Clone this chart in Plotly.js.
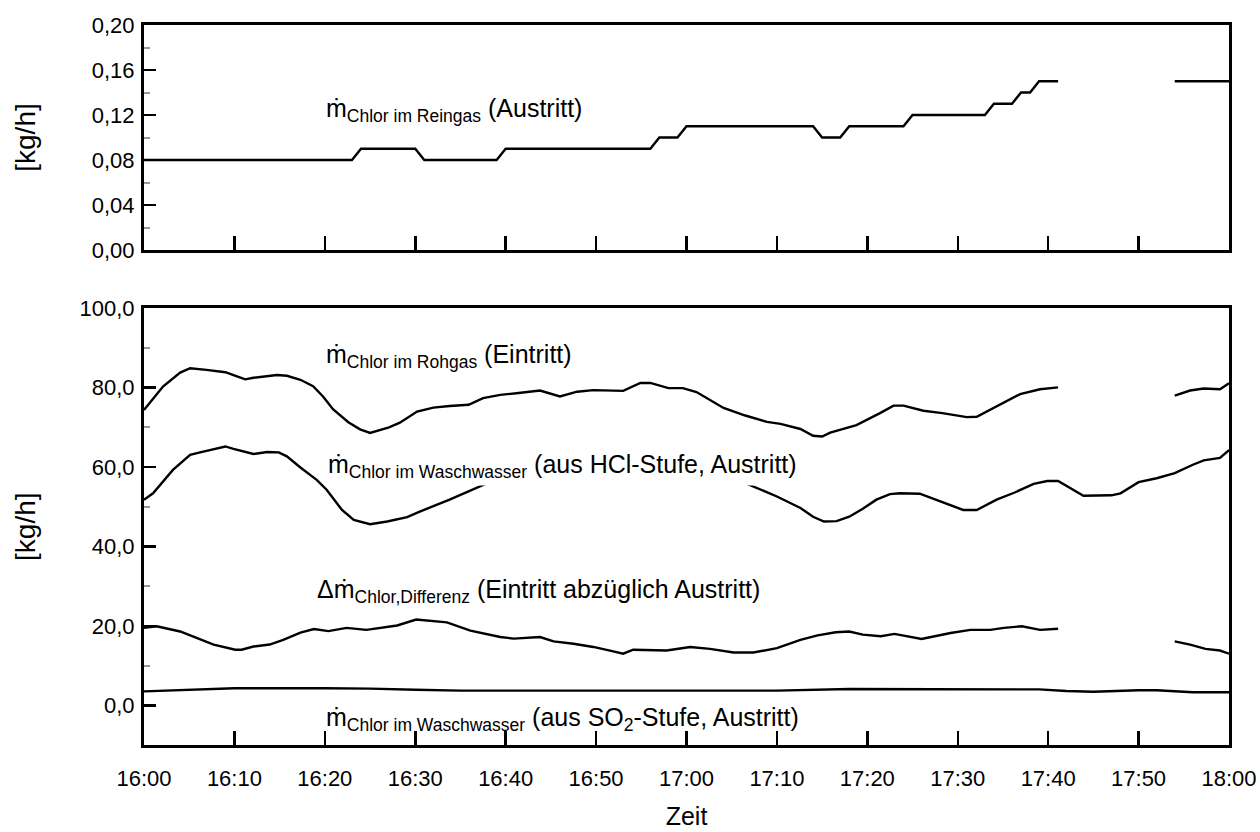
<!DOCTYPE html>
<html>
<head>
<meta charset="utf-8">
<script src="https://cdn.plot.ly/plotly-3.0.1.min.js"></script>
<style>html,body{margin:0;padding:0;background:#fff;}#chart{width:1260px;height:832px;}</style>
</head>
<body>
<div id="chart"></div>
<script>
// time in minutes after 16:00
var timeTickVals = [0,10,20,30,40,50,60,70,80,90,100,110,120];
var timeTickLabels = ['16:00','16:10','16:20','16:30','16:40','16:50','17:00','17:10','17:20','17:30','17:40','17:50','18:00'];

var topTickVals = [0,0.04,0.08,0.12,0.16,0.20];
var topTickLabels = ['0,00','0,04','0,08','0,12','0,16','0,20'];
var botTickVals = [0,20,40,60,80,100];
var botTickLabels = ['0,0','20,0','40,0','60,0','80,0','100,0'];

// Chlor im Reingas (Austritt) [kg/h]
var reingasT = [0,23,24,30,31,39,40,56,57,59,60,74,75,77,78,84,85,93,94,96,97,98,99,101.1,107,114,120];
var reingasV = [0.08,0.08,0.09,0.09,0.08,0.08,0.09,0.09,0.10,0.10,0.11,0.11,0.10,0.10,0.11,0.11,0.12,0.12,0.13,0.13,0.14,0.14,0.15,0.15,null,0.15,0.15];

// Chlor im Rohgas (Eintritt)
var rohgasT = [0,2.1,4.0,5.1,6.9,9.0,9.9,11.2,12.1,13.6,14.7,15.8,17.3,18.7,19.8,20.9,22.6,23.9,25.0,27.1,28.3,30.2,32.0,33.8,35.9,37.5,39.4,41.2,43.8,46.0,47.9,49.7,53.0,54.9,56.0,58.0,59.6,61.1,64.1,66.5,68.9,70.4,72.6,74.0,75.0,75.9,78.8,81.4,82.9,84.0,85.5,86.2,88.3,91.0,92.1,94.7,96.9,99.1,101.1,107,114.0,115.7,117.2,119.0,120];
var rohgasV = [74.4,80.3,83.8,84.9,84.5,83.9,83.2,82.1,82.5,83.0,83.2,83.0,82.0,80.4,77.8,74.6,71.3,69.5,68.6,70.0,71.2,74.0,75.0,75.4,75.7,77.4,78.2,78.6,79.3,77.8,79.0,79.4,79.2,81.2,81.2,79.9,79.9,78.9,74.9,73.0,71.4,70.9,69.6,67.9,67.7,68.7,70.6,73.6,75.5,75.5,74.6,74.2,73.6,72.6,72.7,75.7,78.4,79.6,80.1,null,78.0,79.3,79.8,79.6,81.1];

// Chlor im Waschwasser (aus HCl-Stufe, Austritt)
var hclT = [0,1.0,3.2,5.1,6.2,7.7,9.0,9.9,12.1,13.6,14.9,15.8,17.3,19.1,20.2,21.9,23.2,25.0,26.9,29.1,30.5,33.8,37.4,40,45,50,55,60,64,66.7,70.0,72.6,74.0,75.2,76.6,78.0,79.5,81.0,82.5,83.6,85.8,88.1,90.6,92.1,94.3,96.3,98.4,99.9,101.1,103.9,107.0,108.0,110.0,112.0,114.0,116.0,117.2,119.0,120];
var hclV = [51.8,53.4,59.3,63.1,63.7,64.6,65.2,64.6,63.3,63.8,63.7,62.7,59.9,56.8,54.3,49.2,46.7,45.6,46.3,47.4,48.8,51.8,55.5,58.0,59.5,59.5,59.0,58.5,57.5,55.8,52.6,49.7,47.5,46.3,46.4,47.5,49.5,51.8,53.2,53.4,53.3,51.3,49.2,49.2,51.8,53.6,55.8,56.5,56.5,52.8,52.9,53.4,56.2,57.2,58.5,60.6,61.7,62.3,64.3];

// Chlor Differenz (Eintritt abzüglich Austritt)
var diffT = [0,1.4,4.0,5.3,7.7,10.1,10.8,12.1,13.9,15.4,17.3,18.8,20.4,22.4,24.6,28.0,30.1,33.5,36.1,39.4,40.9,43.8,45.3,47.5,49.7,51.9,53.0,54.1,57.8,60.4,62.6,65.2,67.4,70.0,72.6,74.5,76.5,78.0,79.5,81.5,83.0,86.0,89.2,91.4,93.6,95.1,97.1,99.1,101.1,107,114.0,115.7,117.4,119.0,120];
var diffV = [19.5,19.9,18.6,17.4,15.3,14.0,14.0,14.8,15.3,16.5,18.3,19.2,18.7,19.5,19.0,20.1,21.6,20.9,18.8,17.2,16.8,17.2,16.1,15.5,14.7,13.6,13.0,14.0,13.8,14.7,14.2,13.3,13.3,14.4,16.5,17.6,18.4,18.6,17.8,17.4,18.0,16.7,18.2,19.0,19.0,19.5,19.9,19.0,19.3,null,16.1,15.3,14.2,13.8,13.0];

// Chlor im Waschwasser (aus SO2-Stufe, Austritt)
var so2T = [0,5,10,20,25,30,35,40,50,60,70,78,90,99,102,105,110,112,116,120];
var so2V = [3.5,3.9,4.3,4.3,4.2,3.9,3.7,3.7,3.7,3.6,3.7,4.1,4.1,4.0,3.6,3.4,3.8,3.8,3.3,3.3];

var lineStyle = {color:'#000', width:2.4};
var traces = [
  {x:reingasT, y:reingasV, xaxis:'x', yaxis:'y', type:'scatter', mode:'lines', line:lineStyle, connectgaps:false},
  {x:rohgasT, y:rohgasV, xaxis:'x2', yaxis:'y2', type:'scatter', mode:'lines', line:lineStyle, connectgaps:false},
  {x:hclT, y:hclV, xaxis:'x2', yaxis:'y2', type:'scatter', mode:'lines', line:lineStyle, connectgaps:false},
  {x:diffT, y:diffV, xaxis:'x2', yaxis:'y2', type:'scatter', mode:'lines', line:lineStyle, connectgaps:false},
  {x:so2T, y:so2V, xaxis:'x2', yaxis:'y2', type:'scatter', mode:'lines', line:lineStyle, connectgaps:false}
];

var FONT = 'Liberation Sans, Arial, sans-serif';
var xCommon = {
  range:[0,120], tickmode:'array', tickvals:timeTickVals, ticktext:timeTickLabels,
  ticks:'inside', ticklen:14, tickwidth:2.5, tickcolor:'#000',
  showline:true, linewidth:3, linecolor:'#000', mirror:true,
  showgrid:false, zeroline:false, fixedrange:true
};
var yCommon = {
  ticks:'inside', ticklen:12, tickwidth:2.5, tickcolor:'#000', tickmode:'array',
  showline:true, linewidth:3, linecolor:'#000', mirror:true,
  showgrid:false, zeroline:false, fixedrange:true,
  tickfont:{family:FONT, size:22, color:'#000'}
};

var layout = {
  width:1260, height:832,
  margin:{l:144, r:31, t:25, b:87},
  paper_bgcolor:'#fff', plot_bgcolor:'#fff',
  showlegend:false,
  font:{family:FONT, color:'#000'},
  xaxis: Object.assign({}, xCommon, {anchor:'y', showticklabels:false}),
  xaxis2: Object.assign({}, xCommon, {anchor:'y2', matches:'x', showticklabels:true,
    tickfont:{family:FONT, size:22, color:'#000'}, ticklabelstandoff:12,
    title:{text:'Zeit', font:{family:FONT, size:25, color:'#000'}, standoff:18}}),
  yaxis: Object.assign({}, yCommon, {domain:[0.6875,1], anchor:'x', range:[0,0.2],
    tickvals:topTickVals, ticktext:topTickLabels, ticklabelstandoff:2,
    minor:{tickmode:'linear', tick0:0.02, dtick:0.04, ticks:'inside', ticklen:6, tickwidth:2, tickcolor:'#999'},
    title:{text:'[kg/h]', font:{family:FONT, size:28, color:'#000'}, standoff:48}}),
  yaxis2: Object.assign({}, yCommon, {domain:[0,0.6065], anchor:'x2', range:[-10,100],
    tickvals:botTickVals, ticktext:botTickLabels, ticklabelstandoff:2,
    minor:{tickmode:'linear', tick0:10, dtick:20, ticks:'inside', ticklen:6, tickwidth:2, tickcolor:'#999'},
    title:{text:'[kg/h]', font:{family:FONT, size:28, color:'#000'}, standoff:36}}),
  annotations:[
    {xref:'x', yref:'y', x:19.9, y:0.1244, xanchor:'left', yanchor:'middle', showarrow:false,
     text:'ṁ<sub>Chlor im Reingas</sub> (Austritt)', font:{family:FONT, size:25, color:'#000'}},
    {xref:'x2', yref:'y2', x:19.9, y:88.0, xanchor:'left', yanchor:'middle', showarrow:false,
     text:'ṁ<sub>Chlor im Rohgas</sub> (Eintritt)', font:{family:FONT, size:25, color:'#000'}},
    {xref:'x2', yref:'y2', x:19.9, y:60.3, xanchor:'left', yanchor:'middle', showarrow:false, bgcolor:'#fff', borderpad:3,
     text:'ṁ<sub>Chlor im Waschwasser</sub> (aus HCl-Stufe, Austritt)', font:{family:FONT, size:25, color:'#000'}},
    {xref:'x2', yref:'y2', x:18.9, y:28.7, xanchor:'left', yanchor:'middle', showarrow:false,
     text:'Δṁ<sub>Chlor,Differenz</sub> (Eintritt abzüglich Austritt)', font:{family:FONT, size:25, color:'#000'}},
    {xref:'x2', yref:'y2', x:19.9, y:-3.4, xanchor:'left', yanchor:'middle', showarrow:false,
     text:'ṁ<sub>Chlor im Waschwasser</sub> (aus SO<sub>2</sub>-Stufe, Austritt)', font:{family:FONT, size:25, color:'#000'}}
  ]
};

Plotly.newPlot('chart', traces, layout, {displayModeBar:false, staticPlot:true});
</script>
</body>
</html>
